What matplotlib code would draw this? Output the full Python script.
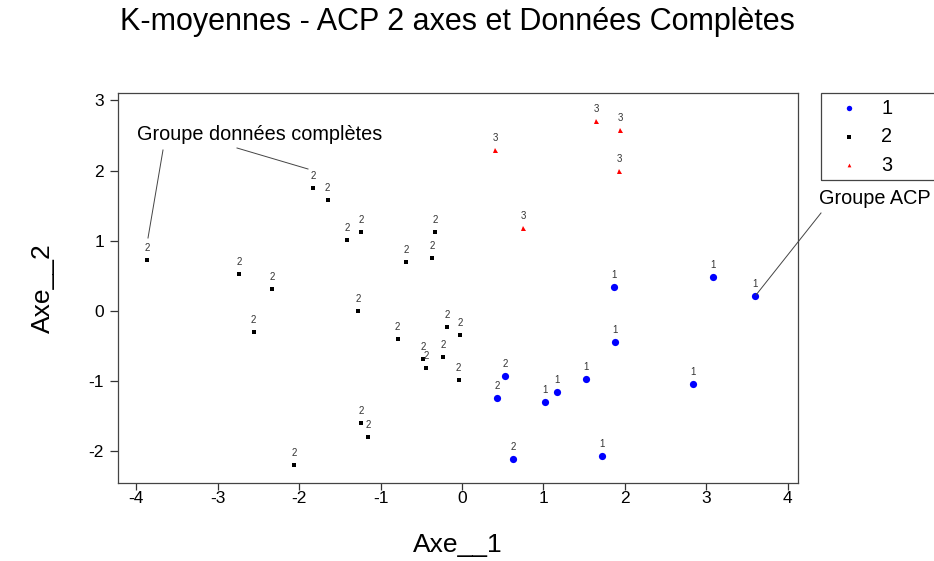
import matplotlib
matplotlib.use("Agg")
import matplotlib.pyplot as plt
from matplotlib.lines import Line2D

plt.rcParams['font.family'] = ['Liberation Sans', 'DejaVu Sans']
plt.rcParams['axes.unicode_minus'] = False

# PCA coordinates, k-means group on PCA (2 axes), and group on complete data
axe1 = [-3.87, -2.74, -2.33, -2.56, -1.83, -1.65, -1.41, -1.24, -0.69, -0.37, -0.33,
        -1.28, -0.79, -0.18, -0.02, -0.48, -0.44, -0.23, -0.04, -1.24, -1.15, -2.06,
        0.53, 0.43, 0.63, 1.02, 1.17, 1.52, 1.72, 1.88, 1.87, 2.84, 3.08, 3.60,
        0.41, 0.75, 1.65, 1.94, 1.93]
axe2 = [0.73, 0.53, 0.31, -0.30, 1.75, 1.58, 1.01, 1.13, 0.70, 0.75, 1.13,
        0.00, -0.40, -0.23, -0.34, -0.68, -0.81, -0.66, -0.98, -1.60, -1.79, -2.19,
        -0.93, -1.24, -2.11, -1.30, -1.15, -0.97, -2.07, -0.44, 0.34, -1.04, 0.48, 0.21,
        2.29, 1.18, 2.71, 2.58, 1.99]
groupe_acp = [2]*22 + [1]*12 + [3]*5
groupe_complet = [2]*22 + [2, 2, 2, 1, 1, 1, 1, 1, 1, 1, 1, 1] + [3]*5

styles = {1: dict(marker='o', color='#0000FF', ms=5.2),
          2: dict(marker='s', color='#000000', ms=3.4),
          3: dict(marker='^', color='#FF0000', ms=3.6)}

fig = plt.figure(figsize=(9.34, 5.61), dpi=100)
ax = fig.add_axes([118/934, 1-483/561, 680/934, 390/561])

for g in (1, 2, 3):
    xs = [x for x, k in zip(axe1, groupe_acp) if k == g]
    ys = [y for y, k in zip(axe2, groupe_acp) if k == g]
    st = styles[g]
    ax.plot(xs, ys, linestyle='none', marker=st['marker'], color=st['color'],
            markersize=st['ms'], markeredgewidth=0)

for x, y, c in zip(axe1, axe2, groupe_complet):
    ax.annotate(str(c), (x, y), xytext=(0, 5), textcoords='offset points',
                ha='center', va='bottom', fontsize=7, color='#333333')

ax.set_xlim(-4.226, 4.128)
ax.set_ylim(-2.45, 3.105)
ax.set_xticks([-4, -3, -2, -1, 0, 1, 2, 3, 4])
ax.set_yticks([-2, -1, 0, 1, 2, 3])
ax.tick_params(labelsize=12.5, width=0.9, color='#333333')
ax.tick_params(axis='x', length=5, pad=0.5)
ax.tick_params(axis='y', length=6, pad=4)
for sp in ax.spines.values():
    sp.set_color('#444444')
    sp.set_linewidth(0.9)

ax.set_xlabel('Axe__1', fontsize=19, labelpad=20)
ax.set_ylabel('Axe__2', fontsize=19, labelpad=24)
fig.text(457/934, 1-22/561, 'K-moyennes - ACP 2 axes et Données Complètes',
         ha='center', va='center', fontsize=22)

# annotations (figure pixel coordinates)
def px(x, y):
    return (x/934, 1-y/561)

fig.text(*px(260, 134), 'Groupe données complètes', ha='center', va='center', fontsize=14.3)
fig.add_artist(Line2D([163/934, 148/934], [1-150/561, 1-238/561], color='#444444', lw=0.7))
fig.add_artist(Line2D([237/934, 308/934], [1-148/561, 1-169/561], color='#444444', lw=0.7))
fig.text(*px(875, 199), 'Groupe ACP', ha='center', va='center', fontsize=14.3)
fig.add_artist(Line2D([821/934, 756/934], [1-213/561, 1-295/561], color='#444444', lw=0.7))

# legend box
fig.add_artist(plt.Rectangle((821/934, 1-180/561), 120/934, 87/561, fill=False,
                             edgecolor='#444444', lw=0.9))
for g, yy in zip((1, 2, 3), (108, 137, 165)):
    st = styles[g]
    fig.add_artist(Line2D([849/934], [1-yy/561], linestyle='none', marker=st['marker'],
                          color=st['color'], markersize=st['ms']*0.75, markeredgewidth=0))
    fig.text(*px(887, yy), str(g), ha='center', va='center', fontsize=14.3)

fig.savefig('out.png', dpi=100)
